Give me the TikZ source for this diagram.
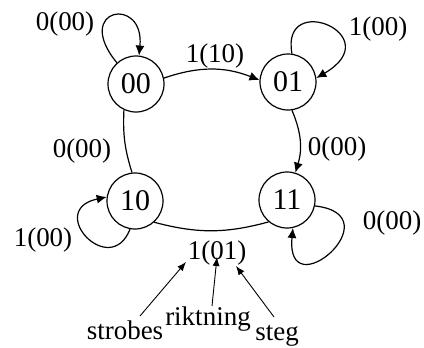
\documentclass[tikz,border=0pt]{standalone}
\usepackage{fontspec}
\setmainfont{Liberation Serif}
\newfontfamily\lserif{Liberation Serif}
\usetikzlibrary{arrows.meta}
\begin{document}
\begin{tikzpicture}[x=1pt,y=-1pt,
  state/.style={circle,draw,line width=1.2pt,minimum size=56pt,inner sep=0pt,font=\lserif\fontsize{30}{32}\selectfont},
  lbl/.style={inner sep=0pt,font=\lserif\fontsize{27}{30}\selectfont},
  edge/.style={line width=1.2pt},
  arr/.style={edge,-{Latex[length=10pt,width=9pt]}},
  note/.style={line width=0.9pt,-{Latex[length=9pt,width=7pt]}}]
\useasboundingbox (0,0) rectangle (424,348);
\node[state] (n00) at (136,84) {00};
\node[state] (n01) at (288,82) {01};
\node[state] (n10) at (135,201) {10};
\node[state] (n11) at (287,200) {11};
% self loops
\draw[arr] (n00.132) .. controls (72,8) and (145,-5) .. (n00.84);
\draw[arr] (n01.82) .. controls (280,-10) and (390,35) .. (n01.8);
\draw[arr] (n10.-100) .. controls (110,280) and (45,210) .. (n10.172);
\draw[arr] (n11.-12) .. controls (395,215) and (285,310) .. (n11.-78);
% transitions
\draw[arr] (n00.12) to[bend left=20] (n01.176);
\draw[arr] (n01.-82) to[bend left=20] (n11.73);
\draw[edge] (n00.-115) to[bend right=10] (n10.96);
\draw[edge] (n10.-48) to[bend right=15] (n11.-130);
% labels
\node[lbl] (l1) at (65,24) {0(00)};
\node[lbl] (l2) at (215,56) {1(10)};
\node[lbl] (l3) at (378,29) {1(00)};
\node[lbl] (l4) at (82,151) {0(00)};
\node[lbl] (l5) at (337,149) {0(00)};
\node[lbl] (l6) at (43,240) {1(00)};
\node[lbl] (l7) at (392,223) {0(00)};
\node[lbl] (l8) at (217,253) {1(01)};
\node[lbl,anchor=base] (strobes) at (125,339) {strobes};
\node[lbl,anchor=base] (riktning) at (208,325) {riktning};
\node[lbl,anchor=base] (steg) at (277,340) {steg};
\coordinate (sA) at (140,316);
\coordinate (sT) at (186,262);
\coordinate (rA) at (212,306);
\coordinate (rT) at (217,257);
\coordinate (gA) at (274,317);
\coordinate (gT) at (236,266);
\draw[note] (sA) -- (sT);
\draw[note] (rA) -- (rT);
\draw[note] (gA) -- (gT);
\end{tikzpicture}
\end{document}
